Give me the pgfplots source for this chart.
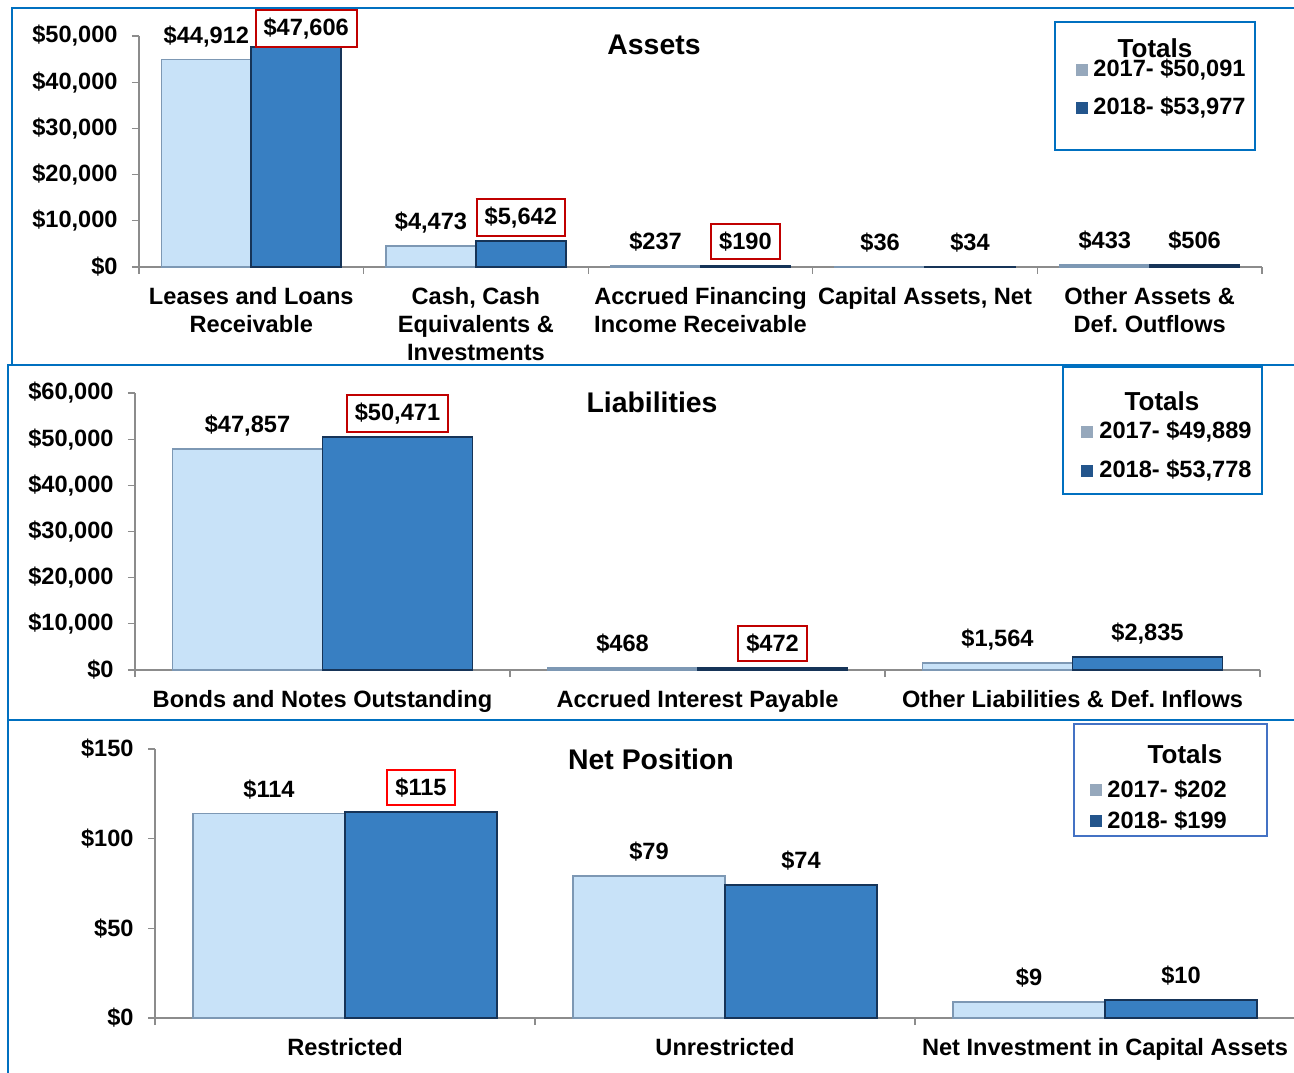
\documentclass[border=0pt]{standalone}
\usepackage{fontspec}
\setmainfont{Liberation Sans}
\usepackage{pgfplots}
\pgfplotsset{compat=1.18}

\definecolor{panelblue}{RGB}{0,112,192}
\definecolor{legblue}{RGB}{68,114,196}
\definecolor{boxred}{RGB}{192,0,0}
\definecolor{brightred}{RGB}{255,0,0}
\definecolor{axisgray}{RGB}{140,140,140}
\definecolor{lightbar}{RGB}{200,226,248}
\definecolor{lightedge}{RGB}{125,152,180}
\definecolor{darkbar}{RGB}{56,127,194}
\definecolor{darkedge}{RGB}{22,52,88}
\definecolor{lightkey}{RGB}{150,168,188}
\definecolor{darkkey}{RGB}{35,85,140}

\newcommand\lab{\fontsize{11.8}{14}\selectfont\bfseries}
\newcommand\ttl{\fontsize{14.2}{16}\selectfont\bfseries}
\newcommand\tot{\fontsize{13}{15}\selectfont\bfseries}
\setlength{\fboxrule}{1pt}
\setlength{\fboxsep}{3.5pt}
\newcommand\rb[1]{\fcolorbox{boxred}{white}{#1}}
\newcommand\rbb[1]{\fcolorbox{brightred}{white}{#1}}
% first boxed label sits a little right of and below its bar's centre
\newcommand\rbA[1]{\hspace*{10pt}\raisebox{-2.5pt}{\rb{#1}}}

\pgfplotsset{
  panel/.style={
    scale only axis, clip=false,
    ybar, ymin=0, bar width=0.4,
    scaled y ticks=false,
    axis x line*=bottom, axis y line*=left,
    axis line style={draw=axisgray, line width=0.6pt},
    every tick/.style={draw=axisgray, line width=0.6pt},
    tick align=outside, major tick length=3.5pt,
    tick label style={font=\lab},
    y tick label style={anchor=east, inner sep=0pt, xshift=-7pt},
    xticklabels={},
    extra x tick style={major tick length=0pt,
      tick label style={align=center, anchor=north, inner sep=0pt, yshift=-10pt}},
    nodes near coords, point meta=explicit symbolic,
    every node near coord/.append style={font=\lab, anchor=base, inner sep=0pt, yshift=8.25pt},
  },
  y2017/.style={fill=lightbar, draw=lightedge, line width=0.9pt, bar shift=-0.2},
  y2018/.style={fill=darkbar, draw=darkedge, line width=0.9pt, bar shift=0.2},
}

\begin{document}
\frenchspacing
\begin{tikzpicture}[x=0.5pt, y=0.5pt]
\useasboundingbox (0,0) rectangle (1294,1072);

% panel frames
\draw[panelblue, line width=1.2pt] (12,707) -- (12,1064) -- (1310,1064);
\draw[panelblue, line width=1.2pt] (8,-8) -- (8,707) -- (1310,707);
\draw[panelblue, line width=1.2pt] (8,352) -- (1310,352);

% ---------- Assets ----------
\begin{axis}[panel, at={(69.5pt,402.5pt)}, anchor=south west,
  width=561.5pt, height=115.5pt,
  xmin=-0.5, xmax=4.5, ymax=50000,
  xtick={-0.5,0.5,...,4.5},
  ytick={0,10000,...,50000},
  yticklabels={{\$0},{\$10,000},{\$20,000},{\$30,000},{\$40,000},{\$50,000}},
  extra x ticks={0,1,2,3,4},
  extra x tick labels={{Leases and Loans\\Receivable},{Cash, Cash\\Equivalents \&\\Investments},{Accrued Financing\\Income Receivable},{Capital Assets, Net},{Other Assets \&\\Def. Outflows}},
]
\addplot[y2017] table[x=x, y=y, meta=lab] {
x y lab
0 44912 \$44,912
1 4473 \$4,473
2 237 \$237
3 36 \$36
4 433 \$433
};
\addplot[y2018] table[x=x, y=y, meta=lab] {
x y lab
0 47606 \rbA{\$47,606}
1 5642 \rb{\$5,642}
2 190 \rb{\$190}
3 34 \$34
4 506 \$506
};
\end{axis}
\node[font=\ttl] at (654,1027) {Assets};
\draw[panelblue, line width=1.2pt] (1055,1050) rectangle (1255,922);
\node[font=\tot] at (1155,1024) {Totals};
\fill[lightkey] (1076,1008) rectangle (1088,996);
\node[font=\lab, anchor=west, inner sep=0pt] at (1093,1002) {2017- \$50,091};
\fill[darkkey] (1076,970) rectangle (1088,958);
\node[font=\lab, anchor=west, inner sep=0pt] at (1093,964) {2018- \$53,977};

% ---------- Liabilities ----------
\begin{axis}[panel, at={(67.5pt,201pt)}, anchor=south west,
  width=562.5pt, height=138.5pt,
  xmin=-0.5, xmax=2.5, ymax=60000,
  xtick={-0.5,0.5,...,2.5},
  ytick={0,10000,...,60000},
  yticklabels={{\$0},{\$10,000},{\$20,000},{\$30,000},{\$40,000},{\$50,000},{\$60,000}},
  extra x ticks={0,1,2},
  extra x tick labels={{Bonds and Notes Outstanding},{Accrued Interest Payable},{Other Liabilities \& Def. Inflows}},
]
\addplot[y2017] table[x=x, y=y, meta=lab] {
x y lab
0 47857 \$47,857
1 468 \$468
2 1564 \$1,564
};
\addplot[y2018] table[x=x, y=y, meta=lab] {
x y lab
0 50471 \rb{\$50,471}
1 472 \rb{\$472}
2 2835 \$2,835
};
\end{axis}
\node[font=\ttl] at (652,670) {Liabilities};
\draw[panelblue, line width=1.2pt] (1063,705) rectangle (1262,578);
\node[font=\tot] at (1162,671) {Totals};
\fill[lightkey] (1081,646) rectangle (1093,634);
\node[font=\lab, anchor=west, inner sep=0pt] at (1099,640) {2017- \$49,889};
\fill[darkkey] (1081,607) rectangle (1093,595);
\node[font=\lab, anchor=west, inner sep=0pt] at (1099,601) {2018- \$53,778};

% ---------- Net Position ----------
\begin{axis}[panel, at={(77.5pt,27pt)}, anchor=south west,
  width=570pt, height=134.5pt,
  xmin=-0.5, xmax=2.5, ymax=150,
  xtick={-0.5,0.5,...,2.5},
  ytick={0,50,100,150},
  yticklabels={{\$0},{\$50},{\$100},{\$150}},
  extra x ticks={0,1,2},
  extra x tick labels={{Restricted},{Unrestricted},{Net Investment in Capital Assets}},
]
\addplot[y2017] table[x=x, y=y, meta=lab] {
x y lab
0 114 \$114
1 79 \$79
2 9 \$9
};
\addplot[y2018] table[x=x, y=y, meta=lab] {
x y lab
0 115 \rbb{\$115}
1 74 \$74
2 10 \$10
};
\end{axis}
\node[font=\ttl] at (651,313) {Net Position};
\draw[legblue, line width=1.2pt] (1074,348) rectangle (1267,236);
\node[font=\tot] at (1185,318) {Totals};
\fill[lightkey] (1090,288) rectangle (1102,276);
\node[font=\lab, anchor=west, inner sep=0pt] at (1107,282) {2017- \$202};
\fill[darkkey] (1090,257) rectangle (1102,245);
\node[font=\lab, anchor=west, inner sep=0pt] at (1107,251) {2018- \$199};
\end{tikzpicture}
\end{document}
